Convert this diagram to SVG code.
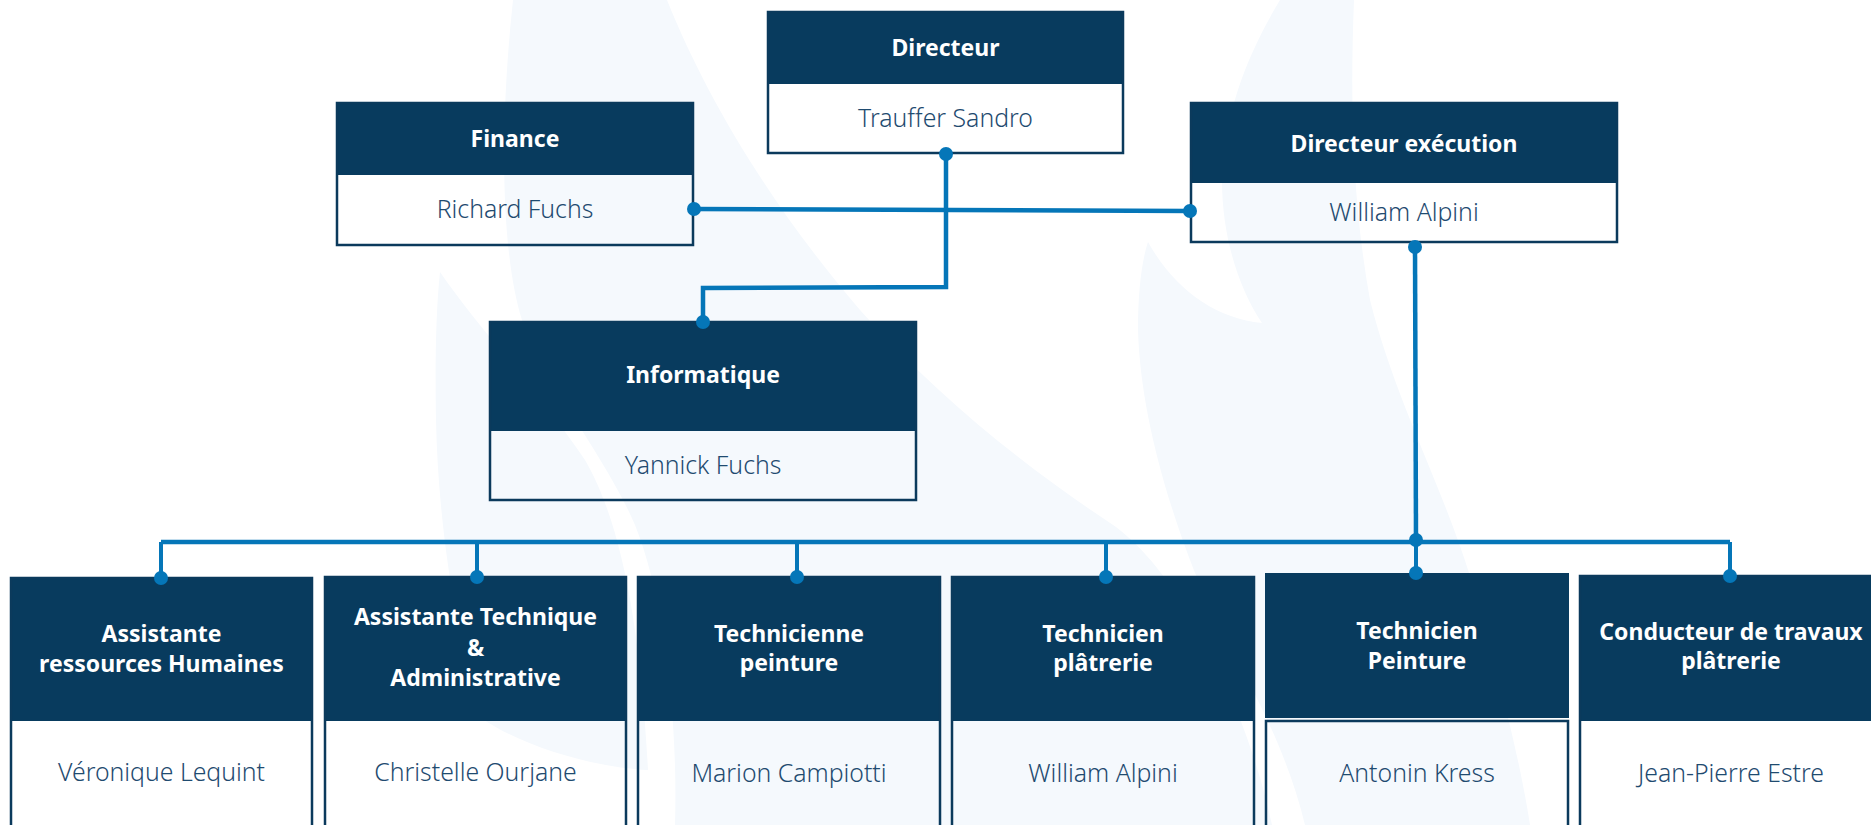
<svg xmlns="http://www.w3.org/2000/svg" width="1871" height="825" viewBox="0 0 1871 825">
<style>
.wm{fill:#f5f9fd}
.hd{fill:#083b5e}
.bx{fill:none;stroke:#0b3a5c;stroke-width:2.5}
.ht{font-family:"Noto Sans","Open Sans",sans-serif;font-weight:700;font-size:23px;fill:#ffffff;text-anchor:middle}
.bt{font-family:"Noto Sans","Open Sans",sans-serif;font-weight:300;font-size:24.8px;fill:#1f4b70;text-anchor:middle}
.cn{fill:none;stroke:#0576b8;stroke-width:4.5;stroke-linejoin:miter}
.dr{fill:none;stroke:#0576b8;stroke-width:4}
.dot{fill:#0576b8}
</style>
<rect x="0" y="0" width="1871" height="825" fill="#ffffff"/>
<g id="watermark">
<path class="wm" d="M513,0 L667,0 C705,95 770,205 860,310 C940,400 1030,470 1116,527 C1180,575 1245,700 1272,825 L675,825 C678,720 665,600 635,525 C605,455 545,385 522,320 C500,250 500,120 513,0 Z"/>
<path class="wm" d="M440,272 C480,330 545,400 585,460 C620,520 640,620 648,770 C600,768 530,750 484,720 C455,640 438,520 436,420 C435,360 436,310 440,272 Z"/>
<path class="wm" d="M1280,0 L1354,0 C1350,100 1352,200 1370,300 C1395,400 1440,480 1470,576 C1500,680 1520,760 1530,825 L1305,825 C1280,720 1220,640 1190,560 C1160,480 1140,400 1138,330 C1138,290 1142,260 1148,242 C1175,290 1215,318 1262,323 C1240,290 1222,240 1222,180 C1224,110 1250,50 1280,0 Z"/>
</g>
<g id="n-directeur">
<rect class="hd" x="767" y="11" width="357" height="73"/>
<rect class="bx" x="768" y="12" width="355" height="141"/>
<text class="ht" x="945.5" y="56">Directeur</text>
<text class="bt" x="945.5" y="127">Trauffer Sandro</text>
</g>
<g id="n-finance">
<rect class="hd" x="336" y="102" width="358" height="73"/>
<rect class="bx" x="337" y="103" width="356" height="142"/>
<text class="ht" x="515" y="147">Finance</text>
<text class="bt" x="515" y="218">Richard Fuchs</text>
</g>
<g id="n-direxec">
<rect class="hd" x="1190" y="102" width="428" height="81"/>
<rect class="bx" x="1191" y="103" width="426" height="139"/>
<text class="ht" x="1404" y="152">Directeur exécution</text>
<text class="bt" x="1404" y="221">William Alpini</text>
</g>
<g id="n-informatique">
<rect class="hd" x="489" y="321" width="428" height="110"/>
<rect class="bx" x="490" y="322" width="426" height="178"/>
<text class="ht" x="703" y="383">Informatique</text>
<text class="bt" x="703" y="474">Yannick Fuchs</text>
</g>
<g id="n-assist-rh">
<rect class="hd" x="10" y="577" width="303" height="144"/>
<rect class="bx" x="11" y="578" width="301" height="270"/>
<text class="ht" x="161.5" y="642">Assistante</text>
<text class="ht" x="161.5" y="672">ressources Humaines</text>
<text class="bt" x="161.5" y="781">Véronique Lequint</text>
</g>
<g id="n-assist-tech">
<rect class="hd" x="324" y="576" width="303" height="145"/>
<rect class="bx" x="325" y="577" width="301" height="270"/>
<text class="ht" x="475.5" y="625">Assistante Technique</text>
<text class="ht" x="475.5" y="656">&amp;</text>
<text class="ht" x="475.5" y="686">Administrative</text>
<text class="bt" x="475.5" y="781">Christelle Ourjane</text>
</g>
<g id="n-techn-peinture">
<rect class="hd" x="637" y="576" width="304" height="145"/>
<rect class="bx" x="638" y="577" width="302" height="270"/>
<text class="ht" x="789" y="642">Technicienne</text>
<text class="ht" x="789" y="671">peinture</text>
<text class="bt" x="789" y="782">Marion Campiotti</text>
</g>
<g id="n-tech-platrerie">
<rect class="hd" x="951" y="576" width="304" height="145"/>
<rect class="bx" x="952" y="577" width="302" height="270"/>
<text class="ht" x="1103" y="642">Technicien</text>
<text class="ht" x="1103" y="671">plâtrerie</text>
<text class="bt" x="1103" y="782">William Alpini</text>
</g>
<g id="n-tech-peinture">
<rect class="hd" x="1265" y="573" width="304" height="145"/>
<rect class="bx" x="1266" y="721" width="302" height="130"/>
<text class="ht" x="1417" y="639">Technicien</text>
<text class="ht" x="1417" y="669">Peinture</text>
<text class="bt" x="1417" y="782">Antonin Kress</text>
</g>
<g id="n-conducteur">
<rect class="hd" x="1579" y="575" width="305" height="146"/>
<rect class="bx" x="1580" y="576" width="303" height="270"/>
<text class="ht" x="1731" y="640">Conducteur de travaux</text>
<text class="ht" x="1731" y="669">plâtrerie</text>
<text class="bt" x="1731" y="782">Jean-Pierre Estre</text>
</g>
<g id="connectors">
<path class="cn" d="M694,209 L1190,211"/>
<path class="cn" d="M946,154 L946,287 L703,288 L703,322"/>
<path class="cn" d="M1415,247 L1416,541"/>
<path class="cn" d="M161,542 L1730,542"/>
<path class="dr" d="M161,542 L161,578 M477,542 L477,577 M797,542 L797,577 M1106,542 L1106,577 M1416,542 L1416,573 M1730,542 L1730,576"/>
<circle class="dot" cx="694" cy="209" r="7"/>
<circle class="dot" cx="1190" cy="211" r="7"/>
<circle class="dot" cx="946" cy="154" r="7"/>
<circle class="dot" cx="703" cy="322" r="7"/>
<circle class="dot" cx="1415" cy="247" r="7"/>
<circle class="dot" cx="1416" cy="540" r="7"/>
<circle class="dot" cx="161" cy="578" r="7"/>
<circle class="dot" cx="477" cy="577" r="7"/>
<circle class="dot" cx="797" cy="577" r="7"/>
<circle class="dot" cx="1106" cy="577" r="7"/>
<circle class="dot" cx="1416" cy="573" r="7"/>
<circle class="dot" cx="1730" cy="576" r="7"/>
</g>
</svg>
